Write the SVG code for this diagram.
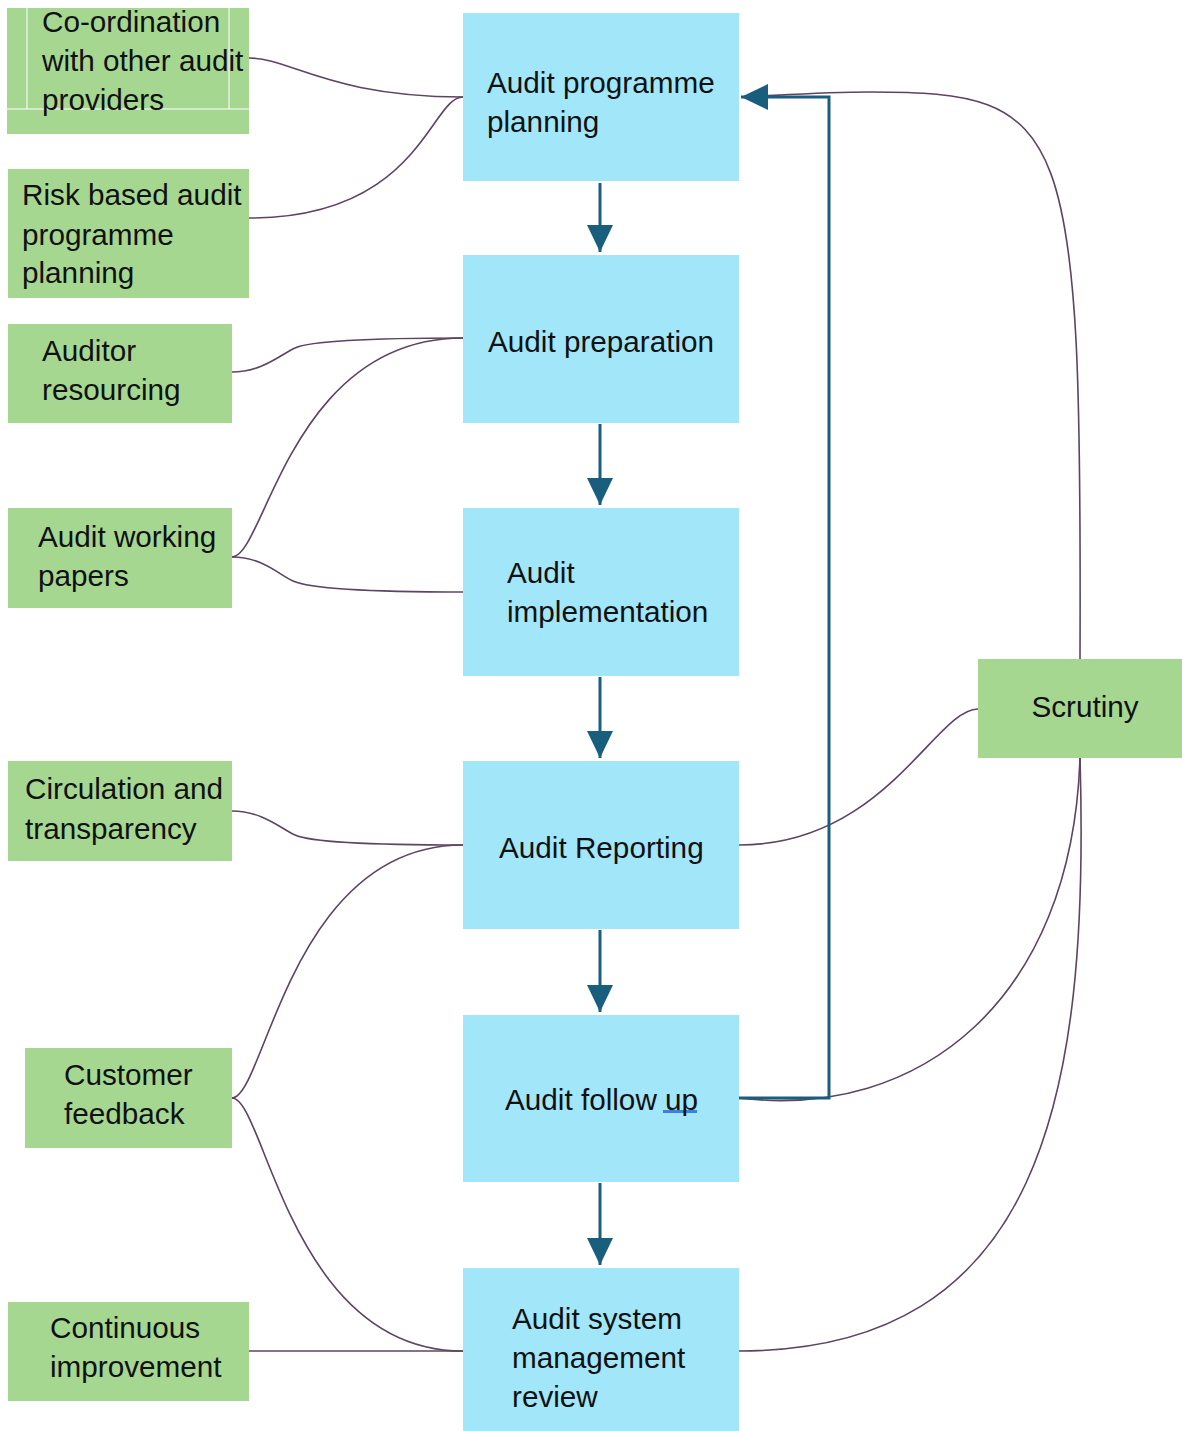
<svg xmlns="http://www.w3.org/2000/svg" width="1182" height="1431" viewBox="0 0 1182 1431">
<style>
  .blue { fill: #A2E6FA; }
  .green { fill: #A6D791; }
  .t { font-family: "Liberation Sans", Arial, sans-serif; font-size: 29.7px; fill: #111111; }
  .c { fill: none; stroke: #5E4460; stroke-width: 1.6; }
  .flow { fill: none; stroke: #1A5E7E; stroke-width: 3; }
</style>
<defs>
  <marker id="ah" markerUnits="userSpaceOnUse" markerWidth="28" markerHeight="28" viewBox="0 0 28 28" refX="27" refY="14" orient="auto">
    <path d="M0,1 L27,14 L0,27 Z" fill="#1A5E7E"/>
  </marker>
</defs>
<rect width="1182" height="1431" fill="#FFFFFF"/>

<g id="connectors">
  <path class="c" d="M249,58 C290,58 330,97 463,97"/>
  <path class="c" d="M249,218 C420,218 430,97 463,97"/>
  <path class="c" d="M232,372 C262,372 280,355 295,348 C310,341 360,338 463,338"/>
  <path class="c" d="M232,557 C265,557 290,338 463,338"/>
  <path class="c" d="M232,557 C262,557 278,574 293,581 C308,588 360,592 463,592"/>
  <path class="c" d="M232,811 C262,811 280,828 295,835 C310,842 360,845 463,845"/>
  <path class="c" d="M232,1098 C265,1098 290,845 463,845"/>
  <path class="c" d="M232,1098 C265,1098 290,1351 463,1351"/>
  <path class="c" d="M249,1351 L463,1351"/>
  <path class="c" d="M739,845 C885,845 935,709 978,709"/>
  <path class="c" d="M1080,659 C1082,120 1070,92 870,92 C820,92 770,96 741,97"/>
  <path class="c" d="M1080,758 C1072,1000 920,1120 739,1098"/>
  <path class="c" d="M1080,758 C1090,1100 1040,1351 739,1351"/>
  <path class="flow" d="M739,1098 L829,1098 L829,97 L741,97" marker-end="url(#ah)"/>
  <path class="flow" d="M600,183 L600,252" marker-end="url(#ah)"/>
  <path class="flow" d="M600,424 L600,505" marker-end="url(#ah)"/>
  <path class="flow" d="M600,677 L600,758" marker-end="url(#ah)"/>
  <path class="flow" d="M600,930 L600,1012" marker-end="url(#ah)"/>
  <path class="flow" d="M600,1183 L600,1265" marker-end="url(#ah)"/>
</g>

<g id="n-programme-planning">
  <rect class="blue" x="463" y="13" width="276" height="168"/>
  <text class="t" x="487" y="93">Audit programme</text>
  <text class="t" x="487" y="132">planning</text>
</g>
<g id="n-preparation">
  <rect class="blue" x="463" y="255" width="276" height="168"/>
  <text class="t" x="488" y="352">Audit preparation</text>
</g>
<g id="n-implementation">
  <rect class="blue" x="463" y="508" width="276" height="168"/>
  <text class="t" x="507" y="583">Audit</text>
  <text class="t" x="507" y="622">implementation</text>
</g>
<g id="n-reporting">
  <rect class="blue" x="463" y="761" width="276" height="168"/>
  <text class="t" x="499" y="858">Audit Reporting</text>
</g>
<g id="n-follow-up">
  <rect class="blue" x="463" y="1015" width="276" height="167"/>
  <rect x="663" y="1110" width="34" height="3" fill="#3D7FE0"/>
  <text class="t" x="505" y="1110">Audit follow up</text>
</g>
<g id="n-system-review">
  <rect class="blue" x="463" y="1268" width="276" height="163"/>
  <text class="t" x="512" y="1329">Audit system</text>
  <text class="t" x="512" y="1368">management</text>
  <text class="t" x="512" y="1407">review</text>
</g>

<g id="n-coordination">
  <rect class="green" x="7" y="8" width="242" height="126"/>
  <path d="M27,8 L27,109 M229,8 L229,109 M7,109 L249,109" stroke="#FFFFFF" stroke-width="1" fill="none"/>
  <text class="t" x="42" y="32">Co-ordination</text>
  <text class="t" x="42" y="71">with other audit</text>
  <text class="t" x="42" y="110">providers</text>
</g>
<g id="n-risk-based">
  <rect class="green" x="8" y="169" width="241" height="129"/>
  <text class="t" x="22" y="205">Risk based audit</text>
  <text class="t" x="22" y="245">programme</text>
  <text class="t" x="22" y="283">planning</text>
</g>
<g id="n-auditor-resourcing">
  <rect class="green" x="8" y="324" width="224" height="99"/>
  <text class="t" x="42" y="361">Auditor</text>
  <text class="t" x="42" y="400">resourcing</text>
</g>
<g id="n-working-papers">
  <rect class="green" x="8" y="508" width="224" height="100"/>
  <text class="t" x="38" y="547">Audit working</text>
  <text class="t" x="38" y="586">papers</text>
</g>
<g id="n-circulation">
  <rect class="green" x="8" y="761" width="224" height="100"/>
  <text class="t" x="25" y="799">Circulation and</text>
  <text class="t" x="25" y="839">transparency</text>
</g>
<g id="n-customer-feedback">
  <rect class="green" x="25" y="1048" width="207" height="100"/>
  <text class="t" x="64" y="1085">Customer</text>
  <text class="t" x="64" y="1124">feedback</text>
</g>
<g id="n-continuous-improvement">
  <rect class="green" x="8" y="1302" width="241" height="99"/>
  <text class="t" x="50" y="1338">Continuous</text>
  <text class="t" x="50" y="1377">improvement</text>
</g>
<g id="n-scrutiny">
  <rect class="green" x="978" y="659" width="204" height="99"/>
  <text class="t" x="1085" y="717" text-anchor="middle">Scrutiny</text>
</g>
</svg>
